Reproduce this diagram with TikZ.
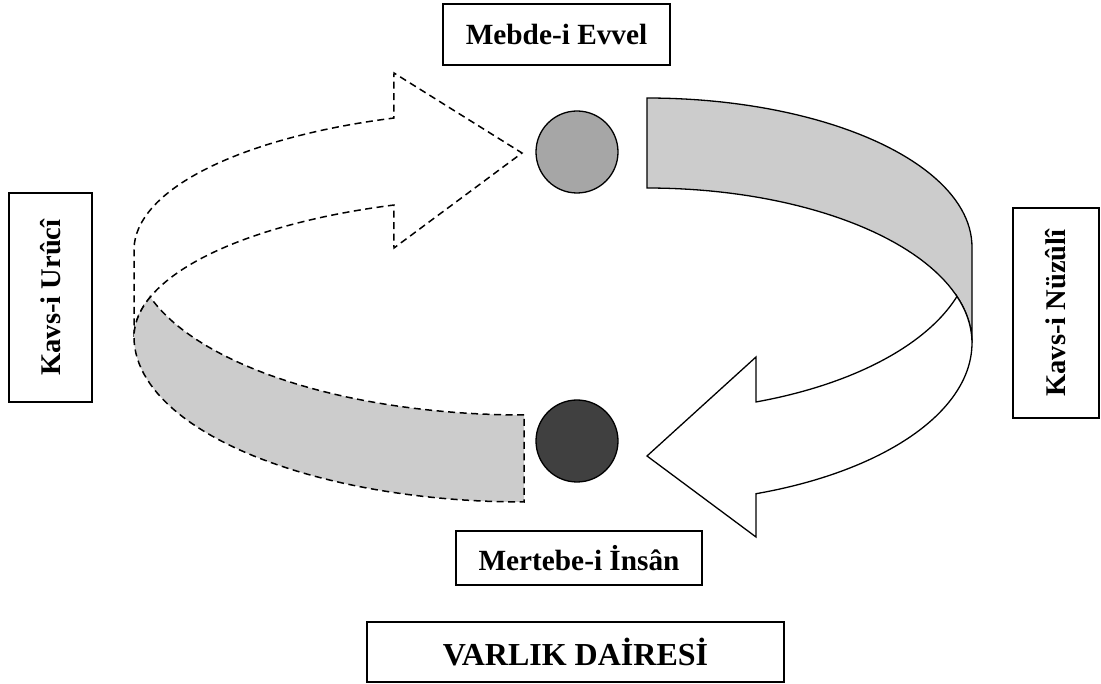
\documentclass[tikz,border=0pt]{standalone}
\usepackage{fontspec}
\setmainfont{Liberation Serif}
\definecolor{bandgray}{HTML}{CCCCCC}
\definecolor{dotlight}{HTML}{A6A6A6}
\definecolor{dotdark}{HTML}{404040}
\begin{document}
\begin{tikzpicture}[x=1pt,y=-1pt,
  labelbox/.style={draw, line width=1.4pt, inner sep=0pt, fill=white,
    font=\bfseries\fontsize{29.3}{33}\selectfont},
  sidebox/.style={labelbox, font=\bfseries\fontsize{28.5}{32}\selectfont},
  bigbox/.style={labelbox, font=\bfseries\fontsize{32}{36}\selectfont},
  ribbon/.style={draw, line width=1.3pt, line join=miter},
  dashribbon/.style={ribbon, line width=1.5pt, dash pattern=on 7pt off 4.5pt},
  dot/.style={circle, draw, line width=1.3pt, minimum size=82pt, inner sep=0pt}]
\useasboundingbox (0,0) rectangle (1101,684);

% right (solid) ribbon arrow: Kavs-i Nuzuli
\filldraw[ribbon, fill=bandgray]
  plot[domain=90:0, samples=50] ({647+325*cos(\x)},{247-149*sin(\x)})
  -- (972,343)
  -- plot[domain=0:90, samples=50] ({647+325*cos(\x)},{343-155*sin(\x)})
  -- cycle;
\filldraw[ribbon, fill=white]
  plot[domain=-17.5:-70.4, samples=50] ({647+325*cos(\x)},{247-164.5*sin(\x)})
  -- (756,357) -- (647,456) -- (756,537)
  -- plot[domain=-70.4:0, samples=50] ({647+325*cos(\x)},{343-160*sin(\x)})
  -- plot[domain=0:17.5, samples=10] ({647+325*cos(\x)},{343-155*sin(\x)})
  -- cycle;

% left (dashed) ribbon arrow: Kavs-i Uruci
\filldraw[dashribbon, fill=white]
  (134,337) -- (134,250)
  -- plot[domain=180:109.5, samples=50] ({524+390*cos(\x)},{250-140*sin(\x)})
  -- (394,73) -- (522,153) -- (394,248)
  -- plot[domain=109.5:180, samples=50] ({524+390*cos(\x)},{337-140*sin(\x)});
\filldraw[dashribbon, fill=bandgray]
  plot[domain=270:196.57, samples=50] ({524+390*cos(\x)},{250-165*sin(\x)})
  -- plot[domain=163.43:180, samples=10] ({524+390*cos(\x)},{337-140*sin(\x)})
  -- plot[domain=180:270, samples=50] ({524+390*cos(\x)},{337-165*sin(\x)})
  -- cycle;

% dots
\node[dot, fill=dotlight] (mebdedot) at (577,152) {};
\node[dot, fill=dotdark] (insandot) at (577,441) {};

% labels
\node[labelbox, minimum width=227pt, minimum height=61pt] (mebde) at (556.5,34.5) {Mebde-i Evvel};
\node[labelbox, minimum width=246pt, minimum height=54pt] (insan) at (579,558) {Mertebe-i İnsân};
\node[sidebox, rotate=90, minimum width=209pt, minimum height=83pt] (uruci) at (50.5,297.5) {Kavs-i Urûcî};
\node[sidebox, rotate=90, minimum width=210pt, minimum height=86pt] (nuzuli) at (1056,313) {Kavs-i Nüzûlî};
\node[bigbox, minimum width=417pt, minimum height=60pt] (varlik) at (575.5,652) {VARLIK DAİRESİ};
\end{tikzpicture}
\end{document}
